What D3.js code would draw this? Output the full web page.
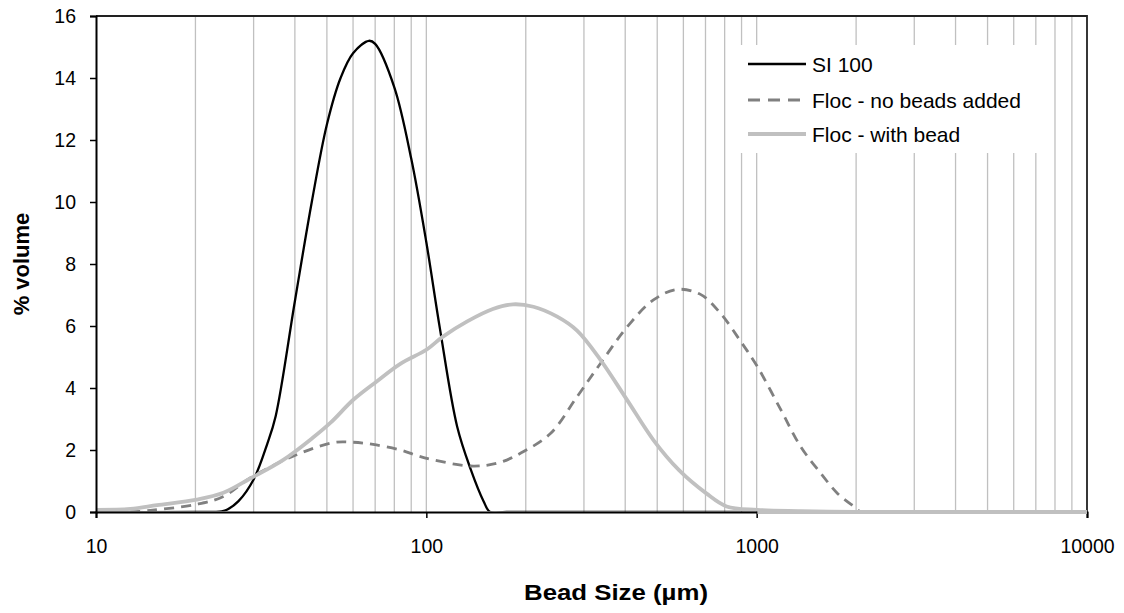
<!DOCTYPE html>
<html>
<head>
<meta charset="utf-8">
<script src="https://cdn.jsdelivr.net/npm/d3@7"></script>
<style>
  body { margin: 0; background: #fff; }
  text { font-family: "Liberation Sans", Arial, sans-serif; }
</style>
</head>
<body>
<script>
// size (µm) / % volume pairs
const si100Size = [10, 20, 24, 25, 27, 30, 33, 35, 40, 45, 50, 55, 60, 67, 70, 80, 90, 100, 110, 124, 136, 149, 156, 175, 10000]
const si100Vol  = [0, 0, 0.02, 0.08, 0.35, 1.05, 2.2, 3.1, 6.8, 10.0, 12.5, 14.0, 14.8, 15.2, 15.1, 13.7, 11.4, 8.7, 5.9, 2.75, 1.4, 0.35, 0, 0, 0]

const noBeadSize = [12.7, 14.6, 20.2, 24.3, 29.3, 39.5, 52.3, 60.1, 69, 83.4, 93.7, 105, 139, 167, 197, 238, 286, 337, 406, 487, 575, 676, 778, 895, 1005, 1183, 1359, 1563, 1757, 1995, 2066, 2400, 10000]
const noBeadVol  = [0, 0.05, 0.25, 0.5, 1.1, 1.8, 2.24, 2.25, 2.18, 2.0, 1.82, 1.68, 1.48, 1.6, 1.95, 2.54, 3.72, 4.8, 5.98, 6.84, 7.18, 7.02, 6.4, 5.5, 4.69, 3.3, 2.11, 1.25, 0.6, 0.13, 0, 0, 0]

const withBeadSize = [10, 12.7, 15.3, 20.2, 24.3, 29.3, 36.9, 45.4, 51.3, 60.1, 70.9, 83.4, 100.6, 112, 133, 159, 183, 211, 249, 286, 337, 406, 487, 582, 704, 811, 1005, 1359, 2000, 2720, 10000]
const withBeadVol  = [0.07, 0.1, 0.22, 0.4, 0.62, 1.08, 1.68, 2.4, 2.88, 3.62, 4.22, 4.78, 5.25, 5.65, 6.15, 6.55, 6.7, 6.62, 6.3, 5.85, 4.9, 3.6, 2.32, 1.35, 0.6, 0.18, 0.07, 0.03, 0, 0, 0]

const seriesNames = ["SI 100", "Floc - no beads added", "Floc - with bead"]
const yTicks = [0, 2, 4, 6, 8, 10, 12, 14, 16]
const xMajor = [10, 100, 1000, 10000]
const xGrid = [20, 30, 40, 50, 60, 70, 80, 90, 100, 200, 300, 400, 500, 600, 700, 800, 900, 1000,
               2000, 3000, 4000, 5000, 6000, 7000, 8000, 9000]

const width = 1124, height = 613
const margin = { top: 16, right: 37, bottom: 101, left: 96 }
const w = width - margin.left - margin.right,
      h = height - margin.top - margin.bottom

const x = d3.scaleLog().domain([10, 10000]).range([0, w])
const y = d3.scaleLinear().domain([0, 16]).range([h, 0])

const svg = d3.select("body").append("svg")
    .attr("width", width).attr("height", height)
const g = svg.append("g")
    .attr("transform", "translate(" + margin.left + "," + margin.top + ")")

// vertical gridlines
g.append("g").selectAll("line").data(xGrid).join("line")
    .attr("x1", d => x(d)).attr("x2", d => x(d))
    .attr("y1", 0).attr("y2", h)
    .style("stroke", "#c0c0c0").style("stroke-width", 1.3)

// plot frame (top / right)
g.append("path")
    .attr("d", `M0,0H${w}V${h}`)
    .style("fill", "none").style("stroke", "#222").style("stroke-width", 1.8)

// legend background hides gridlines
const lg = g.append("g").attr("transform", "translate(" + (736 - margin.left) + "," + (45 - margin.top) + ")")
lg.append("rect").attr("width", 310).attr("height", 108).style("fill", "#fff")

const line = (xs, ys) => d3.line()
    .x(i => x(xs[i])).y(i => y(ys[i]))
    .curve(d3.curveCatmullRom.alpha(0.5))(d3.range(xs.length))

// curves never dip below the baseline
g.append("clipPath").attr("id", "clip")
    .append("rect").attr("x", -2).attr("y", -2).attr("width", w + 4).attr("height", h + 1.2)

const dash = "10,7"
const curves = g.append("g").attr("clip-path", "url(#clip)")
curves.append("path").attr("d", line(si100Size, si100Vol))
    .style("fill", "none").style("stroke", "#000").style("stroke-width", 2.3)
curves.append("path").attr("d", line(noBeadSize, noBeadVol))
    .style("fill", "none").style("stroke", "#808080").style("stroke-width", 2.8)
    .style("stroke-dasharray", dash)
curves.append("path").attr("d", line(withBeadSize, withBeadVol))
    .style("fill", "none").style("stroke", "#c0c0c0").style("stroke-width", 3.8)

// axes
const yAxis = g.append("g")
    .call(d3.axisLeft(y).tickValues(yTicks).tickSize(6).tickPadding(14))
const xAxis = g.append("g").attr("transform", "translate(0," + h + ")")
    .call(d3.axisBottom(x).tickValues(xMajor).tickFormat(d3.format("d")).tickSize(6).tickPadding(21))
for (const ax of [yAxis, xAxis]) {
    ax.select(".domain").style("stroke", "#000").style("stroke-width", 2)
    ax.selectAll(".tick line").style("stroke", "#000").style("stroke-width", 1.5)
    ax.selectAll(".tick text").style("font-size", "19.5px").style("fill", "#000")
        .style("font-family", "'Liberation Sans', Arial, sans-serif")
}
// flat tail of the light-grey series sits over the axis
g.append("line")
    .attr("x1", x(withBeadSize[withBeadSize.length - 5])).attr("x2", x(withBeadSize[withBeadSize.length - 1]))
    .attr("y1", y(0)).attr("y2", y(0))
    .style("stroke", "#c0c0c0").style("stroke-width", 3.8)

// legend entries
const styles = [
    { stroke: "#000", width: 2.3, dash: null },
    { stroke: "#808080", width: 2.8, dash: "12,8" },
    { stroke: "#c0c0c0", width: 3.8, dash: null },
]
const rows = [19, 55, 89]
seriesNames.forEach((name, i) => {
    lg.append("line").attr("x1", 12).attr("x2", 70).attr("y1", rows[i]).attr("y2", rows[i])
        .style("stroke", styles[i].stroke).style("stroke-width", styles[i].width)
        .style("stroke-dasharray", styles[i].dash)
    lg.append("text").attr("x", 76).attr("y", rows[i]).attr("dy", "0.36em")
        .style("font-size", "21px").text(name)
})

// axis titles
svg.append("text")
    .attr("transform", "translate(29,264) rotate(-90)")
    .attr("text-anchor", "middle")
    .style("font-size", "22px").style("font-weight", "bold")
    .text("% volume")
svg.append("text")
    .attr("x", 616).attr("y", 600)
    .attr("text-anchor", "middle")
    .attr("textLength", 184).attr("lengthAdjust", "spacingAndGlyphs")
    .style("font-size", "22px").style("font-weight", "bold")
    .text("Bead Size (µm)")
</script>
</body>
</html>
